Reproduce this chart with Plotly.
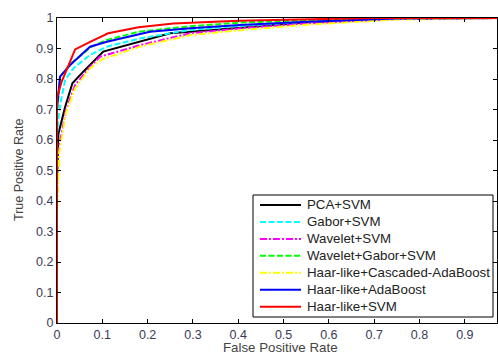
import plotly.graph_objects as go

names = ["PCA+SVM", "Gabor+SVM", "Wavelet+SVM", "Wavelet+Gabor+SVM",
         "Haar-like+Cascaded-AdaBoost", "Haar-like+AdaBoost", "Haar-like+SVM"]

pca_fpr = [0, 0, 0.003, 0.018, 0.034, 0.058, 0.102, 0.183, 0.25, 0.294, 0.404, 0.55, 0.75, 1]
pca_tpr = [0, 0.45, 0.62, 0.709, 0.786, 0.824, 0.89, 0.922, 0.95, 0.955, 0.968, 0.985, 0.998, 1]

gabor_fpr = [0, 0, 0.005, 0.018, 0.036, 0.073, 0.11, 0.183, 0.294, 0.404, 0.55, 0.75, 1]
gabor_tpr = [0, 0.62, 0.70, 0.797, 0.835, 0.879, 0.906, 0.933, 0.961, 0.974, 0.987, 0.998, 1]

wav_fpr = [0, 0, 0.005, 0.02, 0.04, 0.073, 0.095, 0.183, 0.294, 0.404, 0.55, 0.75, 1]
wav_tpr = [0, 0.40, 0.58, 0.70, 0.78, 0.84, 0.873, 0.911, 0.95, 0.966, 0.982, 0.997, 1]

wg_fpr = [0, 0, 0.008, 0.03, 0.075, 0.11, 0.18, 0.294, 0.404, 0.55, 0.75, 1]
wg_tpr = [0, 0.70, 0.81, 0.85, 0.905, 0.928, 0.955, 0.973, 0.985, 0.993, 1, 1]

hca_fpr = [0, 0, 0.005, 0.02, 0.04, 0.073, 0.10, 0.183, 0.294, 0.404, 0.55, 0.75, 1]
hca_tpr = [0, 0.36, 0.56, 0.69, 0.77, 0.835, 0.865, 0.906, 0.944, 0.96, 0.978, 0.995, 1]

hab_fpr = [0, 0, 0.0066, 0.029, 0.073, 0.11, 0.205, 0.294, 0.404, 0.55, 0.75, 1]
hab_tpr = [0, 0.70, 0.808, 0.846, 0.906, 0.922, 0.955, 0.966, 0.977, 0.988, 0.998, 1]

hsvm_fpr = [0, 0, 0.01, 0.04, 0.073, 0.113, 0.18, 0.257, 0.40, 0.55, 0.70, 1]
hsvm_tpr = [0, 0.74, 0.79, 0.897, 0.922, 0.95, 0.97, 0.982, 0.991, 0.996, 1, 1]

xs = [pca_fpr, gabor_fpr, wav_fpr, wg_fpr, hca_fpr, hab_fpr, hsvm_fpr]
ys = [pca_tpr, gabor_tpr, wav_tpr, wg_tpr, hca_tpr, hab_tpr, hsvm_tpr]
colors = ["#000000", "#00ffff", "#ff00ff", "#00ff00", "#ffff00", "#0000ff", "#ff0000"]
DASH = "6px,2.5px"
DASHDOT = "7px,2px,2px,2px"
dashes = ["solid", DASH, DASHDOT, DASH, DASHDOT, "solid", "solid"]

x_ticks = [0, 0.1, 0.2, 0.3, 0.4, 0.5, 0.6, 0.7, 0.8, 0.9]
x_ticktext = ["0", "0.1", "0.2", "0.3", "0.4", "0.5", "0.6", "0.7", "0.8", "0.9"]
y_ticks = [0, 0.1, 0.2, 0.3, 0.4, 0.5, 0.6, 0.7, 0.8, 0.9, 1]
y_ticktext = ["0", "0.1", "0.2", "0.3", "0.4", "0.5", "0.6", "0.7", "0.8", "0.9", "1"]
x_title = "False Positive Rate"
y_title = "True Positive Rate"

fig = go.Figure()
for n, x, y, c, d in zip(names, xs, ys, colors, dashes):
    fig.add_trace(go.Scatter(x=x, y=y, mode="lines", name=n, showlegend=False,
                             line=dict(color=c, width=2, dash=d)))

# --- pixel helpers for layout (paper coordinates) ---
L, T, PW, PH = 57, 18, 440, 305
def px(v):
    return (v - L) / PW
def py(v):
    return (T + PH - v) / PH

# --- manual legend (box, sample lines, labels) ---
shapes = [dict(type="rect", xref="paper", yref="paper",
               x0=px(253), x1=px(493), y0=py(317), y1=py(195),
               line=dict(color="black", width=1), fillcolor="white", layer="above")]
annotations = []
for i, (n, c, d) in enumerate(zip(names, colors, dashes)):
    yy = py(205 + 16.95 * i)
    shapes.append(dict(type="line", xref="paper", yref="paper",
                       x0=px(260), x1=px(301), y0=yy, y1=yy,
                       line=dict(color=c, width=2, dash=d), layer="above"))
    annotations.append(dict(xref="paper", yref="paper", x=px(305), y=yy,
                            text=n, showarrow=False, xanchor="left", yanchor="middle",
                            font=dict(family="Liberation Sans, Arial", size=13.3,
                                      color="#222222")))

# axis titles
annotations.append(dict(xref="paper", yref="paper", x=px(280), y=py(347),
                        text=x_title, showarrow=False, xanchor="center", yanchor="middle",
                        font=dict(family="Liberation Sans, Arial", size=13.3, color="#444444")))
annotations.append(dict(xref="paper", yref="paper", x=px(18.5), y=py(170.5),
                        text=y_title, showarrow=False, xanchor="center", yanchor="middle",
                        textangle=-90,
                        font=dict(family="Liberation Sans, Arial", size=12.5, color="#444444")))

tickfont = dict(family="Liberation Sans, Arial", size=12.5, color="#3a3a55")
fig.update_layout(
    width=498, height=352,
    margin=dict(l=57, r=1, t=18, b=29),
    paper_bgcolor="white", plot_bgcolor="white",
    showlegend=False,
    shapes=shapes, annotations=annotations,
    xaxis=dict(range=[0, 0.971], tickvals=x_ticks, ticktext=x_ticktext,
               ticks="inside", ticklen=4, tickcolor="black", showgrid=False,
               zeroline=False, showline=True, linecolor="black", linewidth=1,
               mirror="ticks", tickfont=tickfont, automargin=False),
    yaxis=dict(range=[0, 1], tickvals=y_ticks, ticktext=y_ticktext,
               ticks="inside", ticklen=4, tickcolor="black", showgrid=False,
               zeroline=False, showline=True, linecolor="black", linewidth=1,
               mirror="ticks", tickfont=tickfont, automargin=False),
)
fig.write_html("out.html", config={"displayModeBar": False},
               post_script="document.body.style.margin='0';document.body.style.overflow='hidden';")
